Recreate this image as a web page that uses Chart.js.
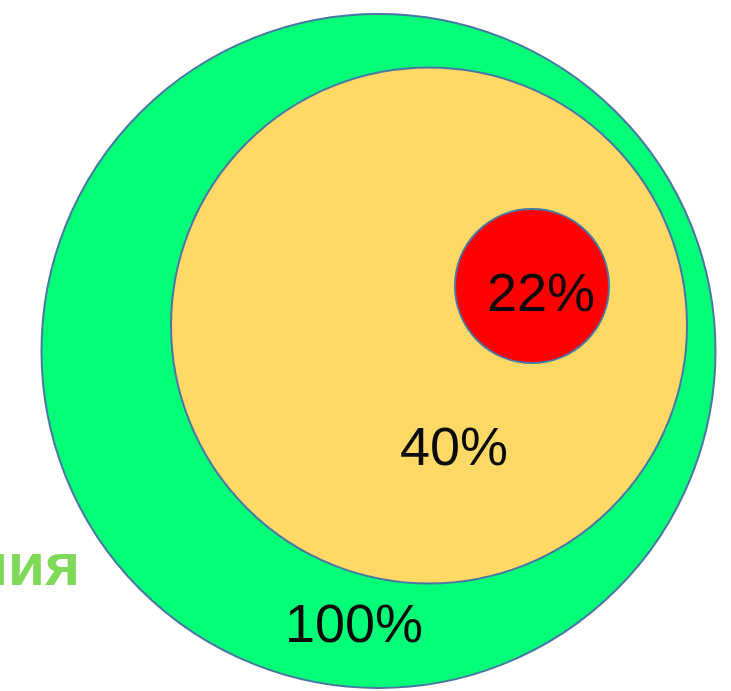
<!DOCTYPE html>
<html>
<head>
<meta charset="utf-8">
<script src="https://cdn.jsdelivr.net/npm/chart.js@4/dist/chart.umd.min.js"></script>
<style>
  html, body { margin: 0; padding: 0; background: #ffffff; }
  #wrap { width: 731px; height: 691px; }
</style>
</head>
<body>
<div id="wrap"><canvas id="c" width="731" height="691"></canvas></div>
<script>
// circle labels (shares)
const labels = ['100%', '40%', '22%'];
// circle centres and radii in chart units
const centerX = [378.5, 429, 532];
const centerY = [351, 325.5, 286];
const radii = [337, 258, 77];
// label anchor points in chart units
const labelX = [354, 454, 541];
const labelY = [627, 450, 296];
// fill colours
const fills = ['#03ff77', '#ffd966', '#ff0000'];
// partial caption visible at left edge
const sideText = 'ния';
const sideX = 80;
const sideY = 585;

const points = centerX.map((x, i) => ({ x: x, y: centerY[i], r: 1 }));

const labelPlugin = {
  id: 'labelPlugin',
  afterDatasetsDraw(chart) {
    const ctx = chart.ctx;
    const sx = chart.scales.x, sy = chart.scales.y;
    ctx.save();
    ctx.fillStyle = '#0a0a0a';
    ctx.font = '54px "Liberation Sans", Arial, sans-serif';
    ctx.textAlign = 'center';
    ctx.textBaseline = 'middle';
    labels.forEach((t, i) => {
      ctx.fillText(t, sx.getPixelForValue(labelX[i]), sy.getPixelForValue(labelY[i]));
    });
    ctx.fillStyle = '#7ed957';
    ctx.font = 'bold 60px "Liberation Sans Narrow", "Liberation Sans", Arial, sans-serif';
    ctx.textAlign = 'right';
    ctx.textBaseline = 'alphabetic';
    ctx.fillText(sideText, sx.getPixelForValue(sideX), sy.getPixelForValue(sideY));
    ctx.restore();
  }
};

const chart = new Chart(document.getElementById('c'), {
  type: 'bubble',
  data: {
    datasets: [{
      data: points,
      backgroundColor: fills,
      borderColor: '#4a76a4',
      borderWidth: 2,
      hoverBorderWidth: 2,
      clip: false
    }]
  },
  options: {
    responsive: false,
    animation: false,
    events: [],
    layout: { padding: 0, autoPadding: false },
    plugins: { legend: { display: false }, tooltip: { enabled: false } },
    scales: {
      x: { type: 'linear', min: 0, max: 731, display: false },
      y: { type: 'linear', min: 0, max: 691, reverse: true, display: false }
    }
  },
  plugins: [labelPlugin]
});

// convert radii from chart units to pixels through the x scale, then redraw
const sx = chart.scales.x;
chart.data.datasets[0].data.forEach((p, i) => {
  p.r = Math.abs(sx.getPixelForValue(radii[i]) - sx.getPixelForValue(0));
});
chart.update();
</script>
</body>
</html>
